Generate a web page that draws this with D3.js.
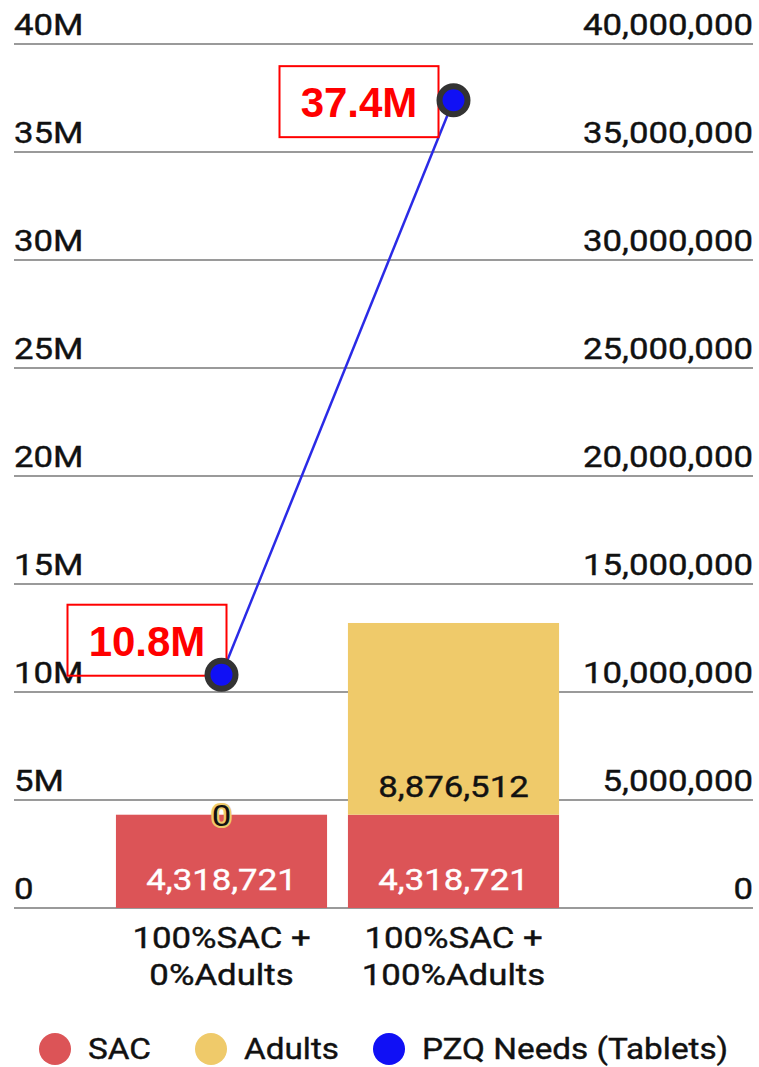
<!DOCTYPE html>
<html>
<head>
<meta charset="utf-8">
<script src="https://cdn.jsdelivr.net/npm/d3@7"></script>
<style>
  body { margin: 0; background: #fff; }
  svg { display: block; font-family: Roboto, "Noto Sans", sans-serif; }
</style>
</head>
<body>
<svg id="chart" width="759" height="1067"></svg>
<script>
// chart values
const categories = ["100%SAC + 0%Adults", "100%SAC + 100%Adults"];
const categoryLines = [["100%SAC +", "0%Adults"], ["100%SAC +", "100%Adults"]];
const sacValues = [4318721, 4318721];
const adultValues = [0, 8876512];
const pzqValues = [10800000, 37400000];
const pzqLabels = ["10.8M", "37.4M"];
const leftTicks = [0, 5e6, 10e6, 15e6, 20e6, 25e6, 30e6, 35e6, 40e6];
const legendItems = ["SAC", "Adults", "PZQ Needs (Tablets)"];

const colors = { sac: "#dc5457", adults: "#efca6a", pzq: "#1010f5" };

const svg = d3.select("#chart");
const left = 14, right = 753;
const stretch = 1.16;   // the reference text is a bit wider than plain Roboto

// put text at (px, py) with the horizontal stretch
function place(sel, px, py, k) {
    return sel.attr("x", 0).attr("y", 0)
        .attr("transform", `translate(${px},${py}) scale(${k || stretch},1)`);
}

let y = d3.scaleLinear().domain([0, 40e6]).range([908, 44]);
let x = d3.scaleBand()
    .domain(categories)
    .range([105.5, 569.5])
    .paddingInner(0.09)
    .paddingOuter(0.045);

// gridlines
svg.append("g").attr("id", "grid")
    .selectAll("line")
    .data(leftTicks)
    .enter()
    .append("line")
        .attr("x1", left).attr("x2", right)
        .attr("y1", d => y(d)).attr("y2", d => y(d))
        .attr("stroke", "#9a9a9a")
        .attr("stroke-width", 2);

// left axis labels (above the lines)
svg.append("g").attr("id", "y-left")
    .selectAll("text")
    .data(leftTicks)
    .enter()
    .append("text")
        .each(function(d) { place(d3.select(this), left, y(d) - 9); })
        .attr("font-size", 30)
        .attr("fill", "#111")
        .attr("stroke", "#111").attr("stroke-width", 0.4)
        .text(d => d === 0 ? "0" : (d / 1e6) + "M");

// right axis labels
svg.append("g").attr("id", "y-right")
    .selectAll("text")
    .data(leftTicks)
    .enter()
    .append("text")
        .each(function(d) { place(d3.select(this), right, y(d) - 9); })
        .attr("text-anchor", "end")
        .attr("font-size", 30)
        .attr("fill", "#111")
        .attr("stroke", "#111").attr("stroke-width", 0.4)
        .text(d => d3.format(",")(d));

// stacked bars
let stackData = categories.map((c, i) => ({ cat: c, sac: sacValues[i], adults: adultValues[i] }));
let series = d3.stack().keys(["sac", "adults"])(stackData);

let bars = svg.append("g").attr("id", "bars");
series.forEach(s => {
    bars.append("g")
        .selectAll("rect")
        .data(s)
        .enter()
        .append("rect")
            .attr("x", d => x(d.data.cat))
            .attr("y", d => y(d[1]))
            .attr("width", x.bandwidth())
            .attr("height", d => y(d[0]) - y(d[1]))
            .attr("fill", colors[s.key]);
});

// bar value labels
let fmt = d3.format(",");
series.forEach(s => {
    bars.append("g")
        .selectAll("text")
        .data(s)
        .enter()
        .append("text")
            .each(function(d) {
                let v = d[1] - d[0];
                let ty = v === 0 ? y(d[1]) + 11 : y(d[0]) - 18;
                place(d3.select(this), x(d.data.cat) + x.bandwidth() / 2, ty);
            })
            .attr("text-anchor", "middle")
            .attr("font-size", 30)
            .attr("fill", s.key === "sac" ? "#fff" : "#111")
            .attr("stroke", d => (d[1] - d[0]) === 0 ? colors.adults : (s.key === "sac" ? "#fff" : "#111"))
            .attr("stroke-width", d => (d[1] - d[0]) === 0 ? 4 : 0.4)
            .attr("paint-order", "stroke")
            .text(d => fmt(d[1] - d[0]));
});

// category labels
let xAxis = svg.append("g").attr("id", "x-axis");
categories.forEach((c, i) => {
    categoryLines[i].forEach((t, j) => {
        xAxis.append("text")
            .call(place, x(c) + x.bandwidth() / 2, 948 + j * 37)
            .attr("text-anchor", "middle")
            .attr("font-size", 30)
            .attr("fill", "#111")
            .attr("stroke", "#111").attr("stroke-width", 0.4)
            .text(t);
    });
});

// PZQ line
let cx = c => x(c) + x.bandwidth() / 2;
let line = d3.line()
    .x((d, i) => cx(categories[i]))
    .y(d => y(d));

svg.append("path")
    .datum(pzqValues)
    .attr("d", line)
    .attr("fill", "none")
    .attr("stroke", "#2a2ae6")
    .attr("stroke-width", 2.5);

// label boxes
let boxes = [
    { dx: -154, dy: -70 },   // 10.8M: box ends just right of the point
    { dx: -174, dy: -34 }    // 37.4M: box left of the point
];
let labels = svg.append("g").attr("id", "pzq-labels");
pzqValues.forEach((v, i) => {
    let bx = cx(categories[i]) + boxes[i].dx;
    let by = y(v) + boxes[i].dy;
    labels.append("rect")
        .attr("x", bx).attr("y", by)
        .attr("width", 159).attr("height", 71)
        .attr("fill", "none")
        .attr("stroke", "#ff0000")
        .attr("stroke-width", 2);
    labels.append("text")
        .attr("x", bx + 79.5)
        .attr("y", by + 51)
        .attr("text-anchor", "middle")
        .attr("font-family", "Arial, 'Liberation Sans', sans-serif")
        .attr("font-weight", "bold")
        .attr("font-size", 42)
        .attr("fill", "#ff0000")
        .text(pzqLabels[i]);
});

// points
svg.append("g").attr("id", "points")
    .selectAll("circle")
    .data(pzqValues)
    .enter()
    .append("circle")
        .attr("cx", (d, i) => cx(categories[i]))
        .attr("cy", d => y(d))
        .attr("r", 14)
        .attr("fill", colors.pzq)
        .attr("stroke", "#333")
        .attr("stroke-width", 6);

// legend
let legendX = [55, 211, 389];
let legend = svg.append("g").attr("id", "legend");
legendItems.forEach((t, i) => {
    legend.append("circle")
        .attr("cx", legendX[i]).attr("cy", 1049)
        .attr("r", 16)
        .attr("fill", [colors.sac, colors.adults, colors.pzq][i]);
    legend.append("text")
        .call(place, legendX[i] + 33, 1059, 1.11)
        .attr("font-size", 30)
        .attr("fill", "#111")
        .attr("stroke", "#111").attr("stroke-width", 0.4)
        .text(t);
});
</script>
</body>
</html>
